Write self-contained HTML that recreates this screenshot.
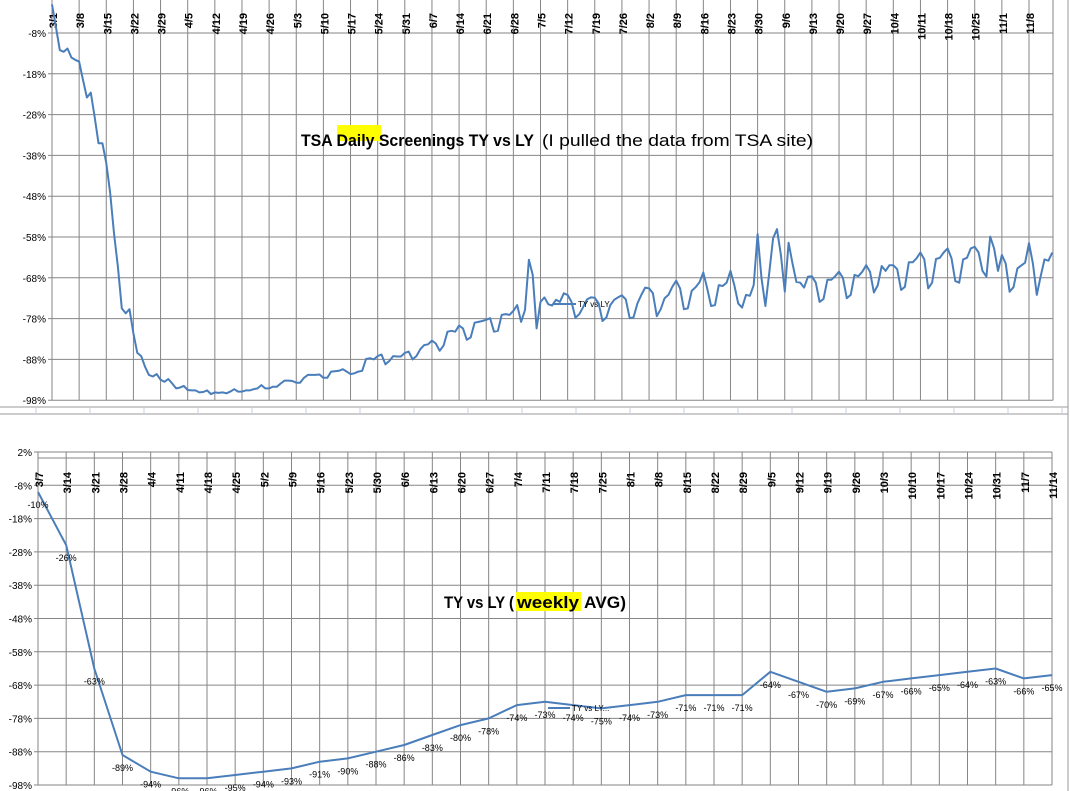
<!DOCTYPE html>
<html><head><meta charset="utf-8"><style>
html,body{margin:0;padding:0;background:#fff;}
svg{display:block;font-family:"Liberation Sans",Arial,sans-serif;}
</style></head><body>
<svg id="svg" xmlns="http://www.w3.org/2000/svg" width="1070" height="791" viewBox="0 0 1070 791">
<rect x="0" y="0" width="1070" height="791" fill="#fff"/>
<g id="topChart"></g>
<g id="sepChart"></g>
<g id="botChart"></g>
</svg>
<script>
// ---- Daily chart data (3/1 .. 11/14), % TY vs LY ----
const dailyTickLabels = ["3/1","3/8","3/15","3/22","3/29","4/5","4/12","4/19","4/26","5/3","5/10","5/17","5/24","5/31","6/7","6/14","6/21","6/28","7/5","7/12","7/19","7/26","8/2","8/9","8/16","8/23","8/30","9/6","9/13","9/20","9/27","10/4","10/11","10/18","10/25","11/1","11/8"];
const dailyValues = [
-1,-6.5,-12.2,-12.6,-11.8,-14,-14.6,-15,-19.5,-23.8,
-22.6,-28.5,-35,-35,-39.9,-47.3,-57.1,-65.3,-75.5,-76.7,
-75.7,-81.6,-86.4,-87.2,-89.8,-91.8,-92.2,-91.6,-93,-93.5,
-92.8,-93.9,-95.1,-94.9,-94.5,-95.5,-95.6,-95.6,-96.1,-96,
-95.6,-96.5,-96.1,-96.2,-96.1,-96.3,-95.9,-95.3,-95.9,-95.9,
-95.6,-95.6,-95.3,-95.1,-94.3,-95.1,-95.1,-94.7,-94.7,-93.9,
-93.2,-93.2,-93.3,-93.7,-93.7,-92.5,-91.8,-91.8,-91.8,-91.7,
-92.5,-92.5,-91,-90.9,-90.8,-90.4,-91,-91.6,-91.4,-91.0,
-90.8,-87.9,-87.7,-88,-87.2,-86.8,-89.2,-88.4,-87.2,-87.3,
-87.3,-86.4,-86.1,-88,-87.2,-85.5,-84.5,-84.3,-83.4,-84.1,
-85.9,-84.6,-81.2,-81,-81.2,-79.7,-80.4,-83.2,-82.6,-79,
-78.8,-78.6,-78.3,-77.9,-81.2,-81,-77.1,-76.9,-77.1,-76.1,
-74.7,-78.8,-75.9,-63.6,-67.3,-80.4,-73.9,-72.8,-74.5,
-74.8,-73.4,-73.9,-71.8,-72.2,-73.9,-77.8,-76.9,-75.2,-73.3,
-72.8,-72.9,-74.3,-78.6,-77.7,-74.7,-73.4,-72.8,-72.3,-73.3,
-77.9,-77.7,-74.3,-72.2,-70.4,-70.6,-71.8,-77.4,-75.7,-73,
-72.2,-70.2,-68.7,-70.6,-75.7,-75.5,-71.2,-70.3,-69.1,-66.7,
-70.6,-74.9,-74.7,-69.8,-70,-69.2,-66.3,-69.8,-74.3,-75.3,
-72.2,-72.4,-69.8,-57.3,-68.1,-74.9,-66.9,-58.3,-56.1,-62.4,
-71.4,-59.4,
-64.5,-69,-69.2,-70.4,-67.7,-67.6,-69.2,-73.9,-73.2,-68.5,
-68.5,-67.6,-66.5,-68,-73,-72.2,-67.3,-67.6,-66.5,-64.9,
-66.5,-71.6,-69.8,-65.1,-66.3,-64.9,-64.9,-65.9,-71,-70.2,
-64.2,-64.2,-63.2,-61.8,-63.5,-70.6,-69.2,-63.4,-63.1,-61.8,
-60.8,-63.2,-68.8,-69.2,-63.5,-63.1,-60.8,-60.4,-61.8,-66.3,
-67.7,-57.9,-60.8,-66.3,-62.4,-64.5,-71.4,-70.3,-65.7,-65,
-64.3,-59.5,-64.5,-72.2,-67.7,-63.5,-63.8,-61.8
];
const dailyYTicks = [-8,-18,-28,-38,-48,-58,-68,-78,-88,-98];

// ---- Weekly chart data ----
const weekLabels = ["3/7","3/14","3/21","3/28","4/4","4/11","4/18","4/25","5/2","5/9","5/16","5/23","5/30","6/6","6/13","6/20","6/27","7/4","7/11","7/18","7/25","8/1","8/8","8/15","8/22","8/29","9/5","9/12","9/19","9/26","10/3","10/10","10/17","10/24","10/31","11/7","11/14"];
const weekValues = [-10,-26,-63,-89,-94,-96,-96,-95,-94,-93,-91,-90,-88,-86,-83,-80,-78,-74,-73,-74,-75,-74,-73,-71,-71,-71,-64,-67,-70,-69,-67,-66,-65,-64,-63,-66,-65];
const weekYTicks = [2,-8,-18,-28,-38,-48,-58,-68,-78,-88,-98];

const NS="http://www.w3.org/2000/svg";
function mk(tag, attrs, parent){const e=document.createElementNS(NS,tag);for(const k in attrs)e.setAttribute(k,attrs[k]);parent.appendChild(e);return e;}
const GRID="#868686", LINE="#4a7ebb";

// ===== Top chart =====
const topG=document.getElementById('topChart');
const tL=52, tR=1053, tPerDay=(1029-52)/252;
const tx=d=>tL+d*tPerDay;
const ty=v=>33+(-8-v)*4.08;
dailyYTicks.forEach(v=>{
  const l=mk('line',{x1:tL-4,x2:tR,y1:ty(v),y2:ty(v),stroke:GRID,'stroke-width':1},topG);
  
  
  const t=mk('text',{x:tL-6,y:ty(v)+4,'text-anchor':'end','font-size':10,fill:'#000'},topG);
  t.textContent=v+'%';
  
  
});
mk('line',{x1:tL,x2:tL,y1:0,y2:ty(-98),stroke:GRID,'stroke-width':1},topG);
mk('line',{x1:tR,x2:tR,y1:0,y2:ty(-98),stroke:GRID,'stroke-width':1},topG);
dailyTickLabels.forEach((lab,i)=>{
  const x=tx(i*7);
  const l=mk('line',{x1:x,x2:x,y1:0,y2:ty(-98),stroke:GRID,'stroke-width':1},topG);
  
  
  const t=mk('text',{x:0,y:0,'text-anchor':'end','font-size':11,'font-weight':'bold',fill:'#000',transform:`translate(${x+5},13) rotate(-90)`},topG);
  t.textContent=lab;
  
  
});
const hl1=mk('rect',{x:337,y:125,width:44,height:16,fill:'#ffff00'},topG);


const tt1=mk('text',{x:301,y:146,'font-size':17,'font-weight':'bold',fill:'#000',textLength:233,lengthAdjust:'spacingAndGlyphs'},topG);
tt1.textContent='TSA Daily Screenings  TY vs LY';


const tt2=mk('text',{x:542,y:146,'font-size':17,fill:'#000',textLength:271,lengthAdjust:'spacingAndGlyphs'},topG);
tt2.textContent='(I pulled the data from TSA site)';


const dpath=mk('polyline',{points:dailyValues.map((v,i)=>tx(i).toFixed(1)+','+ty(v).toFixed(1)).join(' '),fill:'none',stroke:LINE,'stroke-width':2,'stroke-linejoin':'round'},topG);


const lg1=mk('line',{x1:553,x2:576,y1:304,y2:304,stroke:LINE,'stroke-width':2},topG);


const lt1=mk('text',{x:578,y:307,'font-size':8,fill:'#000'},topG);
lt1.textContent='TY vs LY';



// ===== Separator =====
const sepG=document.getElementById('sepChart');
mk('line',{x1:0,x2:1068,y1:407,y2:407,stroke:'#9a9a9a','stroke-width':1},sepG);
mk('line',{x1:0,x2:1068,y1:414,y2:414,stroke:'#9a9a9a','stroke-width':1},sepG);
mk('line',{x1:1068,x2:1068,y1:0,y2:791,stroke:'#9a9a9a','stroke-width':1},sepG);
for(let x=36;x<1068;x+=54){mk('line',{x1:x,x2:x,y1:407,y2:414,stroke:'#c6d0e0','stroke-width':1},sepG);}

// ===== Bottom chart =====
const botG=document.getElementById('botChart');
const bL=38, bR=1052, bStep=(bR-bL)/(weekLabels.length-1);
const bx=i=>bL+i*bStep;
const by=v=>452+(2-v)*3.33;
weekYTicks.forEach(v=>{
  const l=mk('line',{x1:bL-4,x2:bR,y1:by(v),y2:by(v),stroke:GRID,'stroke-width':1},botG);
  
  
  const t=mk('text',{x:bL-6,y:by(v)+4,'text-anchor':'end','font-size':10,fill:'#000'},botG);
  t.textContent=v+'%';
  
  
});
mk('line',{x1:bL,x2:bR,y1:458,y2:458,stroke:GRID,'stroke-width':1},botG);
weekLabels.forEach((lab,i)=>{
  const x=bx(i);
  const l=mk('line',{x1:x,x2:x,y1:by(2),y2:by(-98),stroke:GRID,'stroke-width':1},botG);
  
  
  const t=mk('text',{x:0,y:0,'text-anchor':'end','font-size':11,'font-weight':'bold',fill:'#000',transform:`translate(${x+5},472) rotate(-90)`},botG);
  t.textContent=lab;
  
  
});
const hl2=mk('rect',{x:516,y:592,width:65,height:19,fill:'#ffff00'},botG);


const bt=mk('text',{x:444,y:608,'font-size':17,'font-weight':'bold',fill:'#000',textLength:70,lengthAdjust:'spacingAndGlyphs'},botG);
bt.textContent='TY vs LY (';


const bt2=mk('text',{x:517,y:608,'font-size':17,'font-weight':'bold',fill:'#000',textLength:62,lengthAdjust:'spacingAndGlyphs'},botG);
bt2.textContent='weekly';


const bt3=mk('text',{x:584,y:608,'font-size':17,'font-weight':'bold',fill:'#000',textLength:42,lengthAdjust:'spacingAndGlyphs'},botG);
bt3.textContent='AVG)';


const wpath=mk('polyline',{points:weekValues.map((v,i)=>bx(i).toFixed(1)+','+by(v).toFixed(1)).join(' '),fill:'none',stroke:LINE,'stroke-width':2,'stroke-linejoin':'round'},botG);


weekValues.forEach((v,i)=>{
  const t=mk('text',{x:bx(i),y:by(v)+16,'text-anchor':'middle','font-size':9,fill:'#000'},botG);
  t.textContent=v+'%';
  
  
});
const lg2=mk('line',{x1:548,x2:570,y1:708,y2:708,stroke:LINE,'stroke-width':2},botG);


const lt2=mk('text',{x:572,y:711,'font-size':8,fill:'#000'},botG);
lt2.textContent='TY vs LY...';


</script>
</body></html>
